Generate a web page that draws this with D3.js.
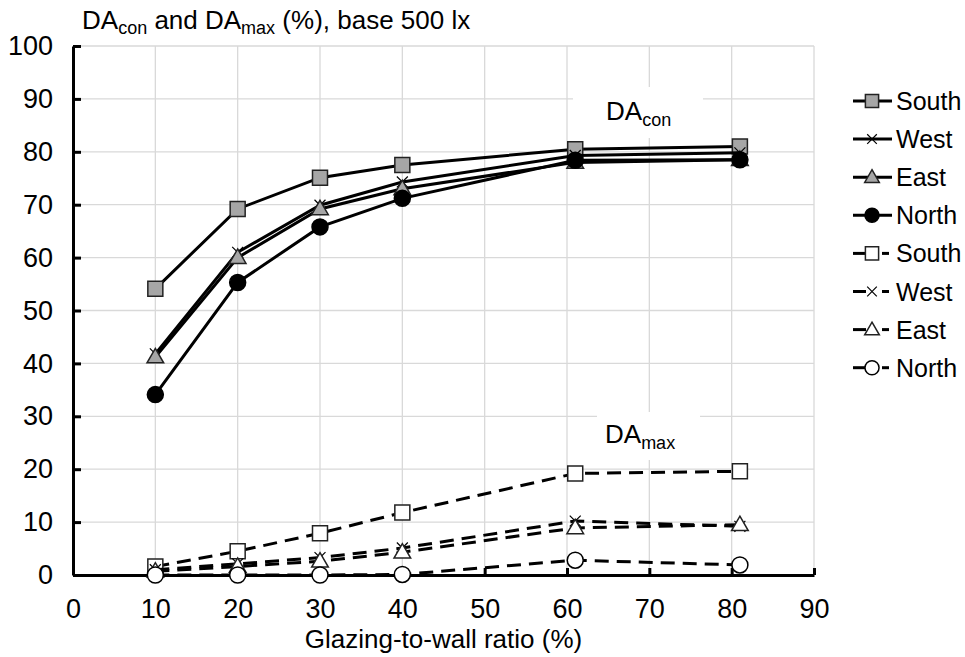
<!DOCTYPE html>
<html>
<head>
<meta charset="utf-8">
<script src="https://cdn.jsdelivr.net/npm/d3@7"></script>
<style>
  body { margin: 0; background: #fff; }
  text { font-family: "Liberation Sans", Arial, sans-serif; fill: #000; }
</style>
</head>
<body>
<div id="chart"></div>
<script>
// glazing-to-wall ratios (x)
const ratios = [10, 20, 30, 40, 61, 81];

// DA continuous (%)
const conSouth = [54.1, 69.2, 75.1, 77.5, 80.5, 81.0];
const conWest  = [41.8, 61.0, 69.9, 74.3, 79.3, 79.8];
const conEast  = [41.2, 60.0, 69.2, 73.0, 78.0, 78.5];
const conNorth = [34.1, 55.3, 65.8, 71.2, 78.4, 78.5];

// DA max (%)
const maxSouth = [1.6, 4.5, 7.9, 11.8, 19.2, 19.6];
const maxWest  = [1.0, 2.1, 3.3, 5.1, 10.2, 9.2];
const maxEast  = [0.7, 1.6, 2.6, 4.3, 8.9, 9.5];
const maxNorth = [0.0, 0.0, 0.0, 0.1, 2.8, 1.9];

const xTicks = [0, 10, 20, 30, 40, 50, 60, 70, 80, 90];
const yTicks = [0, 10, 20, 30, 40, 50, 60, 70, 80, 90, 100];

const series = [
  { name: "South", values: conSouth, shape: "square",   fill: "#a6a6a6", dashed: false },
  { name: "West",  values: conWest,  shape: "cross",    fill: "none",    dashed: false },
  { name: "East",  values: conEast,  shape: "triangle", fill: "#a6a6a6", dashed: false },
  { name: "North", values: conNorth, shape: "circle",   fill: "#000",    dashed: false },
  { name: "South", values: maxSouth, shape: "square",   fill: "#fff",    dashed: true },
  { name: "West",  values: maxWest,  shape: "cross",    fill: "none",    dashed: true },
  { name: "East",  values: maxEast,  shape: "triangle", fill: "#fff",    dashed: true },
  { name: "North", values: maxNorth, shape: "circle",   fill: "#fff",    dashed: true }
];

const width = 965, height = 657;
const svg = d3.select("#chart").append("svg")
  .attr("width", width)
  .attr("height", height);

const x = d3.scaleLinear().domain([0, 90]).range([73, 814]);
const y = d3.scaleLinear().domain([0, 100]).range([575, 46]);

// gridlines
const grid = svg.append("g").attr("stroke", "#d9d9d9").attr("stroke-width", 1.3);
grid.selectAll(".hg").data(yTicks.filter(d => d > 0)).enter().append("line")
  .attr("x1", x(0)).attr("x2", x(90))
  .attr("y1", d => y(d)).attr("y2", d => y(d));
grid.selectAll(".vg").data(xTicks.filter(d => d > 0)).enter().append("line")
  .attr("y1", y(0)).attr("y2", y(100))
  .attr("x1", d => x(d)).attr("x2", d => x(d));

// in-plot labels with white boxes
function subLabel(g, tx, ty, sub) {
  const t = g.append("text").attr("x", tx).attr("y", ty).style("font-size", "26px");
  t.append("tspan").text("DA");
  t.append("tspan").attr("dy", 6).style("font-size", "18px").text(sub);
}
svg.append("rect").attr("x", 573).attr("y", 87).attr("width", 130).attr("height", 51).attr("fill", "#fff");
subLabel(svg, 606, 120, "con");
svg.append("rect").attr("x", 597).attr("y", 412).attr("width", 103).attr("height", 48).attr("fill", "#fff");
subLabel(svg, 605, 443, "max");

// axes
const xAxis = d3.axisBottom(x).tickValues(xTicks).tickSizeInner(-7).tickSizeOuter(0).tickPadding(24);
const yAxis = d3.axisLeft(y).tickValues(yTicks).tickSizeInner(-8).tickSizeOuter(0).tickPadding(20);

const gx = svg.append("g").attr("transform", `translate(0,${y(0)})`).call(xAxis);
const gy = svg.append("g").attr("transform", `translate(${x(0)},0)`).call(yAxis);
[gx, gy].forEach(g => {
  g.select(".domain").attr("stroke", "#000").attr("stroke-width", 3);
  g.selectAll(".tick line").attr("stroke", "#000").attr("stroke-width", 3);
  g.selectAll(".tick text").style("font-size", "27px").attr("fill", "#000")
    .style("font-family", '"Liberation Sans", Arial, sans-serif');
});

// axis title
svg.append("text").attr("x", (x(0) + x(90)) / 2).attr("y", 648)
  .attr("text-anchor", "middle").style("font-size", "26px")
  .text("Glazing-to-wall ratio (%)");

// chart title
const title = svg.append("text").attr("x", 82).attr("y", 29).style("font-size", "26px");
title.append("tspan").text("DA");
title.append("tspan").attr("dy", 5).style("font-size", "18px").text("con");
title.append("tspan").attr("dy", -5).text(" and DA");
title.append("tspan").attr("dy", 5).style("font-size", "18px").text("max");
title.append("tspan").attr("dy", -5).text(" (%), base 500 lx");

// markers
function marker(g, shape, fill, cx, cy, k = 1) {
  if (shape === "square") {
    g.append("path").attr("d", d3.symbol(d3.symbolSquare, 225 * k * k)())
      .attr("transform", `translate(${cx},${cy})`)
      .attr("fill", fill).attr("stroke", "#222").attr("stroke-width", 1.5);
  } else if (shape === "triangle") {
    g.append("path").attr("d", d3.symbol(d3.symbolTriangle, 120 * k * k)())
      .attr("transform", `translate(${cx},${cy + 1})`)
      .attr("fill", fill).attr("stroke", "#222").attr("stroke-width", 1.5);
  } else if (shape === "circle") {
    g.append("circle").attr("cx", cx).attr("cy", cy).attr("r", 8 * k)
      .attr("fill", fill).attr("stroke", "#000").attr("stroke-width", 1.5);
  } else {
    g.append("path").attr("d", d3.symbol(d3.symbolTimes, 80 * k * k)())
      .attr("transform", `translate(${cx},${cy})`)
      .attr("fill", "none").attr("stroke", "#000").attr("stroke-width", 1.2);
  }
}

const line = d3.line().x((d, i) => x(ratios[i])).y(d => y(d));

series.forEach(s => {
  const g = svg.append("g");
  g.append("path").datum(s.values).attr("d", line)
    .attr("fill", "none").attr("stroke", "#000").attr("stroke-width", 3)
    .attr("stroke-dasharray", s.dashed ? "14,8" : null);
  s.values.forEach((v, i) => marker(g, s.shape, s.fill, x(ratios[i]), y(v)));
});

// legend
const legend = svg.append("g");
series.forEach((s, i) => {
  const ly = 101 + i * 38.1;
  const g = legend.append("g");
  if (s.dashed) {
    g.append("line").attr("x1", 853).attr("x2", 866).attr("y1", ly).attr("y2", ly)
      .attr("stroke", "#000").attr("stroke-width", 3);
    g.append("line").attr("x1", 882).attr("x2", 889).attr("y1", ly).attr("y2", ly)
      .attr("stroke", "#000").attr("stroke-width", 3);
  } else {
    g.append("line").attr("x1", 853).attr("x2", 892).attr("y1", ly).attr("y2", ly)
      .attr("stroke", "#000").attr("stroke-width", 3);
  }
  marker(g, s.shape, s.fill, 872, ly, 0.88);
  g.append("text").attr("x", 896).attr("y", ly).attr("dy", "0.36em")
    .style("font-size", "25px").text(s.name);
});
</script>
</body>
</html>
